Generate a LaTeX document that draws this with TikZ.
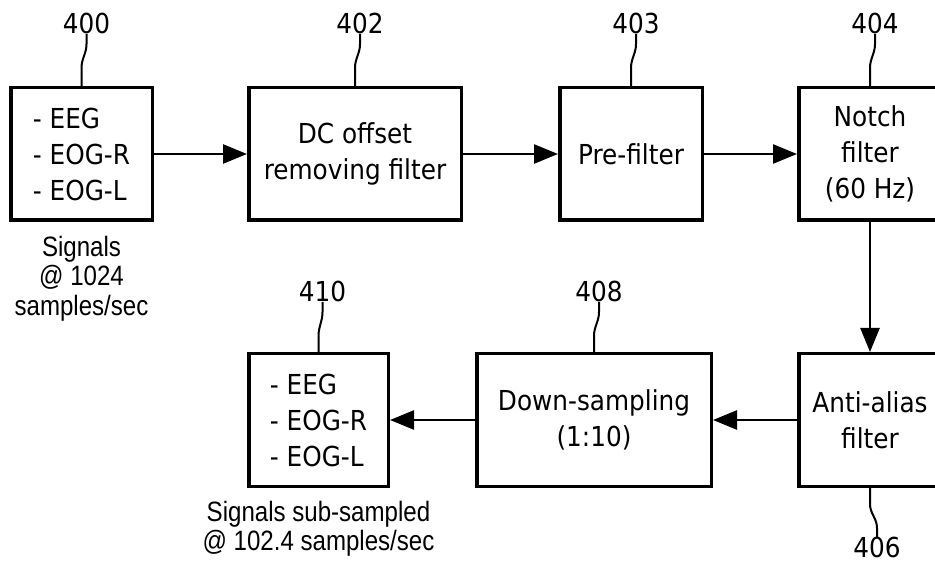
\documentclass[tikz,border=0pt]{standalone}
\usepackage{fontspec}
\setmainfont{DejaVu Sans}[FakeStretch=0.9]
\newfontfamily\capfont{Liberation Sans}[FakeStretch=0.86]
\usetikzlibrary{calc, positioning, arrows.meta}

\begin{document}
\begin{tikzpicture}[x=1pt, y=1pt,
		block/.style = {draw, line width=3.5pt, minimum height=132.5pt, inner sep=0pt, align=center, font=\fontsize{27.5}{36}\selectfont},
		flow/.style = {line width=2.5pt, -{Triangle[length=24pt, width=19pt]}},
		refnum/.style = {inner sep=0pt, font=\fontsize{27.5}{30}\selectfont},
		leader/.style = {line width=2pt},
		caption/.style = {inner sep=0pt, align=center, font=\capfont\fontsize{28}{29.5}\selectfont}]

			\def\rowA{417};
			\def\rowB{151};

			\clip (0,0) rectangle (935,571);

			\node[block, minimum width=141.5pt, align=left] (b400) at (81.5,\rowA) {- EEG\\- EOG-R\\- EOG-L};
			\node[block, minimum width=212.5pt] (b402) at (355,\rowA) {DC offset\\removing filter};
			\node[block, minimum width=142.5pt] (b403) at (631,\rowA) {Pre-filter};
			\node[block, minimum width=142.5pt] (b404) at (870,\rowA) {Notch\\filter\\(60 Hz)};

			\node[block, minimum width=142.5pt] (b406) at (870,\rowB) {Anti-alias\\filter};
			\node[block, minimum width=234.5pt] (b408) at (594,\rowB) {Down-sampling\\(1:10)};
			\node[block, minimum width=139.5pt, align=left] (b410) at (318.5,\rowB) {- EEG\\- EOG-R\\- EOG-L};

			\draw[flow] (b400) -- (b402);
			\draw[flow] (b402) -- (b403);
			\draw[flow] (b403) -- (b404);
			\draw[flow] (b404) -- (b406);
			\draw[flow] (b406) -- (b408);
			\draw[flow] (b408) -- (b410);

			\node[caption, below=14pt of b400] (c400) {Signals\\@ 1024\\samples/sec};
			\node[caption, below=13pt of b410] (c410) {Signals sub-sampled\\@ 102.4 samples/sec};

			\node[refnum, anchor=south] (n400) at ($(b400.north)+(5,52)$) {400};
			\node[refnum, anchor=south] (n402) at ($(b402.north)+(5,52)$) {402};
			\node[refnum, anchor=south] (n403) at ($(b403.north)+(5,52)$) {403};
			\node[refnum, anchor=south] (n404) at ($(b404.north)+(5,52)$) {404};
			\node[refnum, anchor=south] (n408) at ($(b408.north)+(5,50)$) {408};
			\node[refnum, anchor=south] (n410) at ($(b410.north)+(4,50)$) {410};
			\node[refnum, anchor=north] (n406) at ($(b406.south)+(7,-49)$) {406};

			\draw[leader] (b400.north) -- ++(0,18) to[out=90, in=-90] ++(5,24) -- (n400.south);
			\draw[leader] (b402.north) -- ++(0,18) to[out=90, in=-90] ++(5,24) -- (n402.south);
			\draw[leader] (b403.north) -- ++(0,18) to[out=90, in=-90] ++(5,24) -- (n403.south);
			\draw[leader] (b404.north) -- ++(0,18) to[out=90, in=-90] ++(5,24) -- (n404.south);
			\draw[leader] (b408.north) -- ++(0,16) to[out=90, in=-90] ++(5,24) -- (n408.south);
			\draw[leader] (b410.north) -- ++(0,16) to[out=90, in=-90] ++(4,24) -- (n410.south);
			\draw[leader] (b406.south) -- ++(0,-16) to[out=-90, in=90] ++(7,-24) -- (n406.north);
		\end{tikzpicture}
\end{document}
